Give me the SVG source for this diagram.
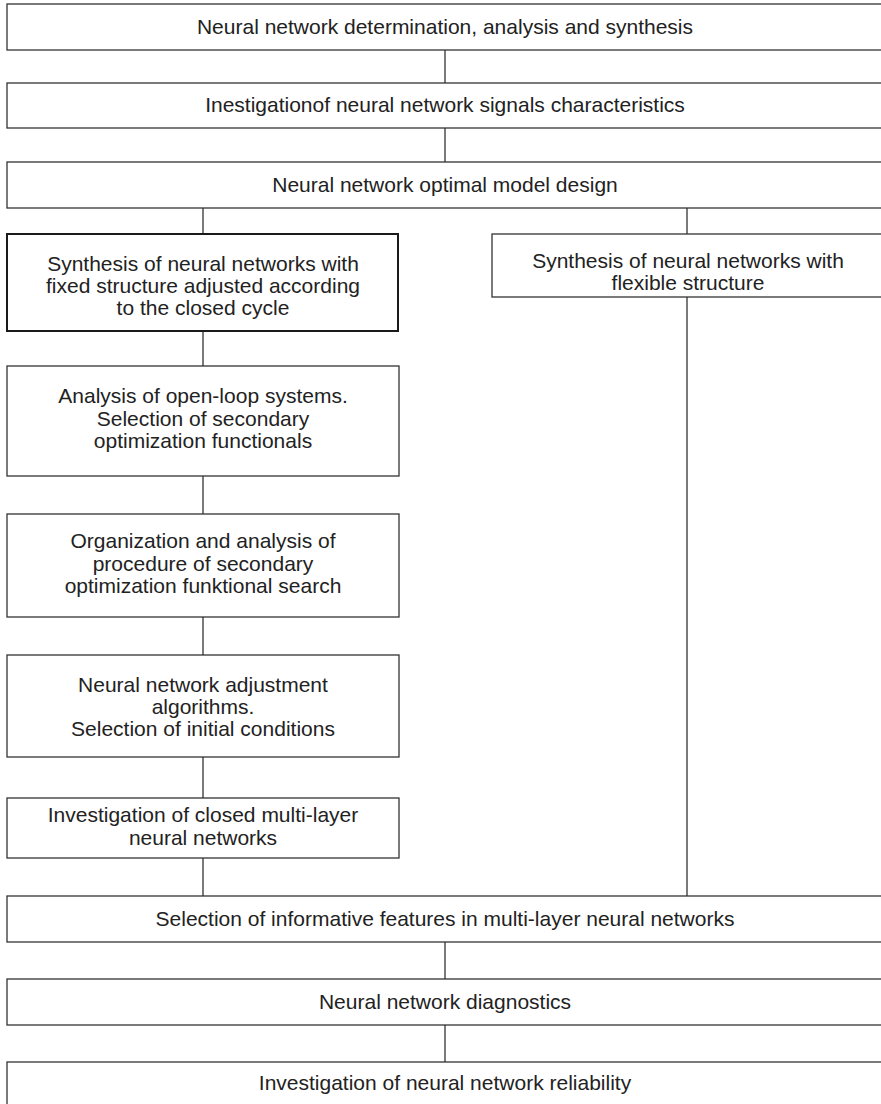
<svg xmlns="http://www.w3.org/2000/svg" width="881" height="1104" viewBox="0 0 881 1104">
  <style>
    .box { fill: #ffffff; stroke: #333333; stroke-width: 1.3; }
    .box-strong { fill: #ffffff; stroke: #1a1a1a; stroke-width: 2; }
    .lbl { font-family: "Liberation Sans", Arial, sans-serif; font-size: 21px; fill: #222222; text-anchor: middle; }
    .wire { stroke: #333333; stroke-width: 1.3; fill: none; }
  </style>
  <rect width="881" height="1104" fill="#ffffff"/>

  <!-- connectors -->
  <g id="connectors">
    <line class="wire" x1="445" y1="50" x2="445" y2="83"/>
    <line class="wire" x1="445" y1="128" x2="445" y2="162"/>
    <line class="wire" x1="203" y1="208" x2="203" y2="234"/>
    <line class="wire" x1="687" y1="208" x2="687" y2="234"/>
    <line class="wire" x1="203" y1="331" x2="203" y2="366"/>
    <line class="wire" x1="203" y1="476" x2="203" y2="514"/>
    <line class="wire" x1="203" y1="617" x2="203" y2="655"/>
    <line class="wire" x1="203" y1="757" x2="203" y2="798"/>
    <line class="wire" x1="203" y1="858" x2="203" y2="896"/>
    <line class="wire" x1="687" y1="297" x2="687" y2="896"/>
    <line class="wire" x1="445" y1="942" x2="445" y2="979"/>
    <line class="wire" x1="445" y1="1025" x2="445" y2="1062"/>
  </g>

  <g id="n1">
    <rect class="box" x="7" y="4" width="885" height="46"/>
    <text class="lbl" x="445" y="34">Neural network determination, analysis and synthesis</text>
  </g>
  <g id="n2">
    <rect class="box" x="7" y="83" width="885" height="45"/>
    <text class="lbl" x="445" y="112">Inestigationof neural network signals characteristics</text>
  </g>
  <g id="n3">
    <rect class="box" x="7" y="162" width="885" height="46"/>
    <text class="lbl" x="445" y="192">Neural network optimal model design</text>
  </g>
  <g id="n4">
    <rect class="box-strong" x="7" y="234" width="391" height="97"/>
    <text class="lbl" x="203" y="271">Synthesis of neural networks with</text>
    <text class="lbl" x="203" y="293">fixed structure adjusted according</text>
    <text class="lbl" x="203" y="315">to the closed cycle</text>
  </g>
  <g id="n5">
    <rect class="box" x="492" y="234" width="400" height="63"/>
    <text class="lbl" x="688" y="268">Synthesis of neural networks with</text>
    <text class="lbl" x="688" y="290">flexible structure</text>
  </g>
  <g id="n6">
    <rect class="box" x="7" y="366" width="392" height="110"/>
    <text class="lbl" x="203" y="403">Analysis of open-loop systems.</text>
    <text class="lbl" x="203" y="426">Selection of secondary</text>
    <text class="lbl" x="203" y="448">optimization functionals</text>
  </g>
  <g id="n7">
    <rect class="box" x="7" y="514" width="392" height="103"/>
    <text class="lbl" x="203" y="548">Organization and analysis of</text>
    <text class="lbl" x="203" y="571">procedure of secondary</text>
    <text class="lbl" x="203" y="593">optimization funktional search</text>
  </g>
  <g id="n8">
    <rect class="box" x="7" y="655" width="392" height="102"/>
    <text class="lbl" x="203" y="692">Neural network adjustment</text>
    <text class="lbl" x="203" y="714">algorithms.</text>
    <text class="lbl" x="203" y="736">Selection of initial conditions</text>
  </g>
  <g id="n9">
    <rect class="box" x="7" y="798" width="392" height="60"/>
    <text class="lbl" x="203" y="822">Investigation of closed multi-layer</text>
    <text class="lbl" x="203" y="845">neural networks</text>
  </g>
  <g id="n10">
    <rect class="box" x="7" y="896" width="885" height="46"/>
    <text class="lbl" x="445" y="926">Selection of informative features in multi-layer neural networks</text>
  </g>
  <g id="n11">
    <rect class="box" x="7" y="979" width="885" height="46"/>
    <text class="lbl" x="445" y="1009">Neural network diagnostics</text>
  </g>
  <g id="n12">
    <rect class="box" x="7" y="1062" width="885" height="60"/>
    <text class="lbl" x="445" y="1090">Investigation of neural network reliability</text>
  </g>
</svg>
